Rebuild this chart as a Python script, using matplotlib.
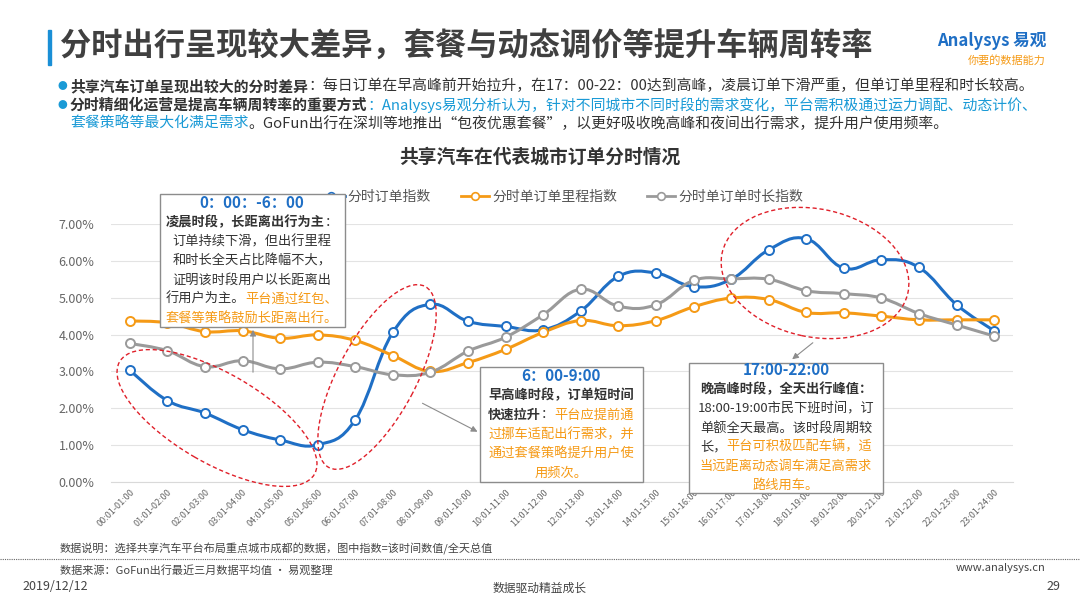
import numpy as np
import matplotlib
matplotlib.use("Agg")
import matplotlib.pyplot as plt
from matplotlib.path import Path
from matplotlib.patches import PathPatch, Ellipse, Rectangle, FancyArrowPatch
from matplotlib.transforms import IdentityTransform
from matplotlib.ticker import FuncFormatter

plt.rcParams['font.family'] = ['Noto Sans CJK SC', 'DejaVu Sans']

hours = [f"{h:02d}:01-{h + 1:02d}:00" for h in range(24)]
order_idx = [3.03, 2.21, 1.87, 1.42, 1.14, 1.01, 1.69, 4.06, 4.82, 4.36, 4.22, 4.13,
             4.64, 5.58, 5.67, 5.30, 5.50, 6.30, 6.60, 5.80, 6.03, 5.82, 4.81, 4.10]
mileage_idx = [4.37, 4.32, 4.08, 4.10, 3.90, 3.99, 3.84, 3.43, 3.00, 3.24, 3.60, 4.06,
               4.38, 4.24, 4.38, 4.75, 4.99, 4.95, 4.60, 4.59, 4.50, 4.40, 4.40, 4.40]
duration_idx = [3.76, 3.56, 3.13, 3.29, 3.07, 3.25, 3.13, 2.91, 2.98, 3.55, 3.93, 4.54,
                5.23, 4.77, 4.81, 5.47, 5.51, 5.50, 5.19, 5.11, 4.99, 4.57, 4.26, 3.96]
series = [("分时订单指数", order_idx, "#1f6fc5"),
          ("分时单订单里程指数", mileage_idx, "#f59a16"),
          ("分时单订单时长指数", duration_idx, "#9a9a9a")]

BLUE = "#1f6fc5"
ORANGE = "#f59a16"
DARK = "#333333"


def smooth_path(x, y, t=0.2):
    # Bezier path through the points (Excel-style smoothed line)
    x = np.asarray(x, float)
    y = np.asarray(y, float)
    verts = [(x[0], y[0])]
    codes = [Path.MOVETO]
    n = len(x)
    for i in range(n - 1):
        x0, y0 = (x[i - 1], y[i - 1]) if i > 0 else (x[i], y[i])
        x3, y3 = (x[i + 2], y[i + 2]) if i + 2 < n else (x[i + 1], y[i + 1])
        c1 = (x[i] + t * (x[i + 1] - x0), y[i] + t * (y[i + 1] - y0))
        c2 = (x[i + 1] - t * (x3 - x[i]), y[i + 1] - t * (y3 - y[i]))
        verts += [c1, c2, (x[i + 1], y[i + 1])]
        codes += [Path.CURVE4] * 3
    return Path(verts, codes)


fig = plt.figure(figsize=(10.8, 6.08), dpi=100)
W, H = 1080, 608


def px(x, y):
    return x / W, 1 - y / H


ax = fig.add_axes([111 / W, 1 - 482 / H, 902 / W, 258 / H])
xs = np.arange(24)
for name, vals, col in series:
    ax.add_patch(PathPatch(smooth_path(xs, vals), fill=False, edgecolor=col, lw=2.2, zorder=3))
    ax.plot(xs, vals, linestyle='none', marker='o', ms=6.5, mfc='white', mec=col, mew=1.4,
            zorder=4)
    ax.plot([], [], color=col, lw=2.0, marker='o', ms=5.5, mfc='white', mec=col, mew=1.2,
            label=name)

ax.set_xlim(-0.5, 23.5)
ax.set_ylim(0, 7.0)
ax.set_yticks(np.arange(0, 7.01, 1))
ax.yaxis.set_major_formatter(FuncFormatter(lambda v, p: f"{v:.2f}%"))
ax.set_xticks(xs)
ax.set_xticklabels(hours, rotation=45, ha='right', rotation_mode='anchor', fontsize=6.5,
                   color='#666666')
ax.tick_params(axis='y', labelsize=9, colors='#666666', length=0, pad=12)
ax.tick_params(axis='x', length=0, pad=4)
ax.grid(axis='y', color='#e3e3e3', lw=0.8)
for s in ['top', 'right', 'left']:
    ax.spines[s].set_visible(False)
ax.spines['bottom'].set_color('#d9d9d9')
ax.legend(loc='center', bbox_to_anchor=(px(560, 197)), bbox_transform=fig.transFigure,
          ncol=3, frameon=False, fontsize=10, handlelength=2.0, handletextpad=0.2,
          columnspacing=2.2, labelcolor='#555555')

# ellipses in pixel coords
for cx, cy, w, h, ang in [(217, 418, 225, 90, -30), (377, 377, 205, 78, 62),
                          (815, 273, 190, 128, -12)]:
    fig.patches.append(Ellipse((cx, H - cy), w, h, angle=ang, transform=IdentityTransform(),
                               fill=False, ec='#e0202a', ls=(0, (3, 2)), lw=1.0, zorder=5))

# annotation boxes
for x0, y0, x1, y1 in [(160, 194, 345, 327), (480, 367, 643, 482), (689, 363, 883, 493)]:
    fig.patches.append(Rectangle((x0, H - y1), x1 - x0, y1 - y0, transform=IdentityTransform(),
                                 fc='white', ec='#8c8c8c', lw=1.0, zorder=6))

for (xa, ya), (xb, yb) in [((253, 375), (253, 327)), ((420, 402), (480, 433)),
                           ((815, 341), (790, 361))]:
    fig.patches.append(FancyArrowPatch((xa, H - ya), (xb, H - yb), transform=IdentityTransform(),
                                       arrowstyle='-|>', mutation_scale=9, color='#8c8c8c',
                                       lw=0.8, zorder=6))

renderer = fig.canvas.get_renderer()


def rich_line(cx, y, parts, size=9.5):
    # parts: list of (text, color, bold); centred at cx
    arts = []
    for txt, col, bold in parts:
        t = fig.text(0, 0, txt, fontsize=size, color=col, fontweight='bold' if bold else 'normal',
                     va='center', ha='left', zorder=7)
        arts.append(t)
    widths = [a.get_window_extent(renderer).width for a in arts]
    x = cx - sum(widths) / 2
    for a, w in zip(arts, widths):
        a.set_position(px(x, y))
        x += w


box1 = [
    [("0：00：-6：00", BLUE, True)],
    [("凌晨时段，长距离出行为主", DARK, True), ("：", DARK, False)],
    [("订单持续下滑，但出行里程", DARK, False)],
    [("和时长全天占比降幅不大，", DARK, False)],
    [("证明该时段用户以长距离出", DARK, False)],
    [("行用户为主。", DARK, False), ("平台通过红包、", ORANGE, False)],
    [("套餐等策略鼓励长距离出行。", ORANGE, False)],
]
for i, parts in enumerate(box1):
    rich_line(252, 203 + i * 19.3, parts, size=11 if i == 0 else 9.5)

box2 = [
    [("6：00-9:00", BLUE, True)],
    [("早高峰时段，订单短时间", DARK, True)],
    [("快速拉升", DARK, True), ("：", DARK, False), ("平台应提前通", ORANGE, False)],
    [("过挪车适配出行需求，并", ORANGE, False)],
    [("通过套餐策略提升用户使", ORANGE, False)],
    [("用频次。", ORANGE, False)],
]
for i, parts in enumerate(box2):
    rich_line(561, 376 + i * 19.5, parts, size=11 if i == 0 else 9.5)

box3 = [
    [("17:00-22:00", BLUE, True)],
    [("晚高峰时段，全天出行峰值：", DARK, True)],
    [("18:00-19:00市民下班时间，订", DARK, False)],
    [("单额全天最高。该时段周期较", DARK, False)],
    [("长，", DARK, False), ("平台可积极匹配车辆，适", ORANGE, False)],
    [("当远距离动态调车满足高需求", ORANGE, False)],
    [("路线用车。", ORANGE, False)],
]
for i, parts in enumerate(box3):
    rich_line(786, 370 + i * 19.3, parts, size=11 if i == 0 else 9.5)

# header
fig.patches.append(Rectangle((48, H - 65), 3, 35, transform=IdentityTransform(), color='#1a8fd6'))
fig.text(*px(60, 47), "分时出行呈现较大差异，套餐与动态调价等提升车辆周转率", fontsize=22.5,
         fontweight='bold', color='#404040', va='center')
fig.text(*px(1046, 41), "Analysys 易观", fontsize=12, color=BLUE, fontweight='bold',
         ha='right', va='center', style='italic')
fig.text(*px(1046, 60), "你要的数据能力", fontsize=8, color=ORANGE, ha='right', va='center')

bullets = [
    (86, [("共享汽车订单呈现出较大的分时差异", DARK, True),
          ("：每日订单在早高峰前开始拉升，在17：00-22：00达到高峰，凌晨订单下滑严重，但单订单里程和时长较高。", DARK, False)]),
    (105, [("分时精细化运营是提高车辆周转率的重要方式", DARK, True),
           ("：Analysys易观分析认为，针对不同城市不同时段的需求变化，平台需积极通过运力调配、动态计价、", "#1a9ad6", False)]),
    (124, [("套餐策略等最大化满足需求", "#1a9ad6", False),
           ("。GoFun出行在深圳等地推出“包夜优惠套餐”，以更好吸收晚高峰和夜间出行需求，提升用户使用频率。", DARK, False)]),
]
for y, parts in bullets:
    x = 70
    for txt, col, bold in parts:
        t = fig.text(*px(x, y), txt, fontsize=10.7, color=col, va='center',
                     fontweight='bold' if bold else 'normal')
        x += t.get_window_extent(renderer).width
for y in (86, 105):
    fig.text(*px(57, y), "●", fontsize=7, color='#1a9ad6', va='center')

fig.text(*px(540, 157), "共享汽车在代表城市订单分时情况", fontsize=13.5, fontweight='bold',
         color='#333333', ha='center', va='center')

# footer
fig.text(*px(60, 549), "数据说明：选择共享汽车平台布局重点城市成都的数据，图中指数=该时间数值/全天总值",
         fontsize=8, color='#444444', va='center')
fig.add_artist(plt.Line2D([0, 1], [1 - 559 / H] * 2, color='#666666', lw=0.8, ls=(0, (1, 1))))
fig.text(*px(60, 570), "数据来源：GoFun出行最近三月数据平均值 · 易观整理", fontsize=8,
         color='#444444', va='center')
fig.text(*px(22, 586), "2019/12/12", fontsize=9, color='#444444', va='center')
fig.text(*px(540, 588), "数据驱动精益成长", fontsize=8.5, color='#444444', va='center', ha='center')
fig.text(*px(1045, 568), "www.analysys.cn", fontsize=8, color='#444444', va='center', ha='right')
fig.text(*px(1060, 586), "29", fontsize=9, color='#444444', va='center', ha='right')

fig.savefig("out.png", dpi=100)
